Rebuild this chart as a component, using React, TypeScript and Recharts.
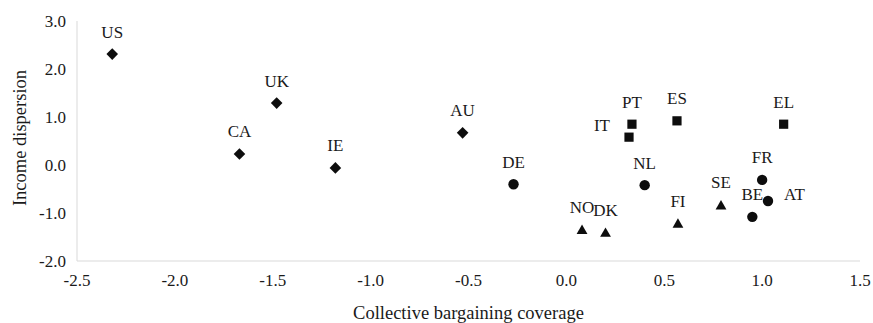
import React from 'react';
import { ScatterChart, Scatter, XAxis, YAxis } from 'recharts';

// ---- data ----
const diamondNames = ['US', 'CA', 'UK', 'IE', 'AU'];
const diamondX = [-2.32, -1.67, -1.48, -1.18, -0.53];
const diamondY = [2.31, 0.23, 1.29, -0.06, 0.67];

const circleNames = ['DE', 'NL', 'FR', 'AT', 'BE'];
const circleX = [-0.27, 0.4, 1.0, 1.03, 0.95];
const circleY = [-0.4, -0.42, -0.31, -0.75, -1.08];

const triangleNames = ['NO', 'DK', 'FI', 'SE'];
const triangleX = [0.08, 0.2, 0.57, 0.79];
const triangleY = [-1.34, -1.4, -1.21, -0.83];

const squareNames = ['IT', 'PT', 'ES', 'EL'];
const squareX = [0.32, 0.335, 0.565, 1.11];
const squareY = [0.58, 0.85, 0.92, 0.85];

const xTicks = [-2.5, -2.0, -1.5, -1.0, -0.5, 0.0, 0.5, 1.0, 1.5];
const yTicks = [-2.0, -1.0, 0.0, 1.0, 2.0, 3.0];

const xTitle = 'Collective bargaining coverage';
const yTitle = 'Income dispersion';

// ---- styles ----
const FONT = '"Liberation Serif", "Times New Roman", serif';
const TEXT = '#1a1a1a';
const MARK = '#0d0d0d';
const AXIS = '#d9d9d9';
const LABEL_SIZE = 17;
const TICK_SIZE = 17;
const TITLE_SIZE = 18.5;
const labelSide: Record<string, 'left' | 'right'> = { IT: 'left', AT: 'right' };

const build = (names: string[], xs: number[], ys: number[]) =>
  names.map((name, i) => ({ name, x: xs[i], y: ys[i] }));

const diamondData = build(diamondNames, diamondX, diamondY);
const circleData = build(circleNames, circleX, circleY);
const triangleData = build(triangleNames, triangleX, triangleY);
const squareData = build(squareNames, squareX, squareY);

const PointLabel = ({ cx, cy, name }: { cx: number; cy: number; name: string }) => {
  const side = labelSide[name];
  let x = cx;
  let y = cy - 16.5;
  let anchor: 'middle' | 'start' | 'end' = 'middle';
  if (side === 'left') {
    x = cx - 19;
    y = cy - 6;
    anchor = 'end';
  } else if (side === 'right') {
    x = cx + 16;
    y = cy - 1;
    anchor = 'start';
  }
  return (
    <text x={x} y={y} textAnchor={anchor} fontFamily={FONT} fontSize={LABEL_SIZE} fill={TEXT}>
      {name}
    </text>
  );
};

const makeShape = (kind: 'diamond' | 'circle' | 'triangle' | 'square') => (props: any) => {
  const { cx, cy, payload } = props;
  let mark: React.ReactNode = null;
  if (kind === 'diamond') {
    const r = 5.8;
    mark = <polygon points={`${cx},${cy - r} ${cx + r},${cy} ${cx},${cy + r} ${cx - r},${cy}`} fill={MARK} />;
  } else if (kind === 'circle') {
    mark = <circle cx={cx} cy={cy} r={5.2} fill={MARK} />;
  } else if (kind === 'square') {
    mark = <rect x={cx - 4.6} y={cy - 4.6} width={9.2} height={9.2} fill={MARK} />;
  } else {
    mark = <polygon points={`${cx},${cy - 4.8} ${cx + 5.4},${cy + 4.6} ${cx - 5.4},${cy + 4.6}`} fill={MARK} />;
  }
  return (
    <g>
      {mark}
      <PointLabel cx={cx} cy={cy} name={payload.name} />
    </g>
  );
};

const XTitle = (props: any) => {
  const vb = props.viewBox;
  return (
    <text x={vb.x + vb.width / 2} y={vb.y + 58} textAnchor="middle" fontFamily={FONT} fontSize={TITLE_SIZE} fill={TEXT}>
      {xTitle}
    </text>
  );
};

const YTitle = (props: any) => {
  const vb = props.viewBox;
  const cx = 26;
  const cy = vb.y + vb.height / 2 - 3;
  return (
    <text
      x={cx}
      y={cy}
      textAnchor="middle"
      transform={`rotate(-90 ${cx} ${cy})`}
      fontFamily={FONT}
      fontSize={TITLE_SIZE}
      fill={TEXT}
    >
      {yTitle}
    </text>
  );
};

export default function App() {
  return (
    <div style={{ position: 'absolute', left: 0, top: 0, width: 873, height: 323, background: '#fff' }}>
      <ScatterChart width={873} height={323} margin={{ top: 21, right: 13, bottom: 0, left: 0 }}>
        <XAxis
          type="number"
          dataKey="x"
          domain={[-2.5, 1.5]}
          ticks={xTicks}
          tickFormatter={(v: number) => v.toFixed(1)}
          height={62}
          stroke={AXIS}
          tickLine={false}
          tickMargin={7}
          tick={{ fill: TEXT, fontFamily: FONT, fontSize: TICK_SIZE }}
          allowDataOverflow
          label={<XTitle />}
        />
        <YAxis
          type="number"
          dataKey="y"
          domain={[-2, 3]}
          ticks={yTicks}
          tickFormatter={(v: number) => v.toFixed(1)}
          width={77}
          stroke={AXIS}
          tickLine={false}
          tickMargin={5}
          tick={{ fill: TEXT, fontFamily: FONT, fontSize: TICK_SIZE }}
          allowDataOverflow
          label={<YTitle />}
        />
        <Scatter data={diamondData} shape={makeShape('diamond')} isAnimationActive={false} />
        <Scatter data={circleData} shape={makeShape('circle')} isAnimationActive={false} />
        <Scatter data={triangleData} shape={makeShape('triangle')} isAnimationActive={false} />
        <Scatter data={squareData} shape={makeShape('square')} isAnimationActive={false} />
      </ScatterChart>
    </div>
  );
}
